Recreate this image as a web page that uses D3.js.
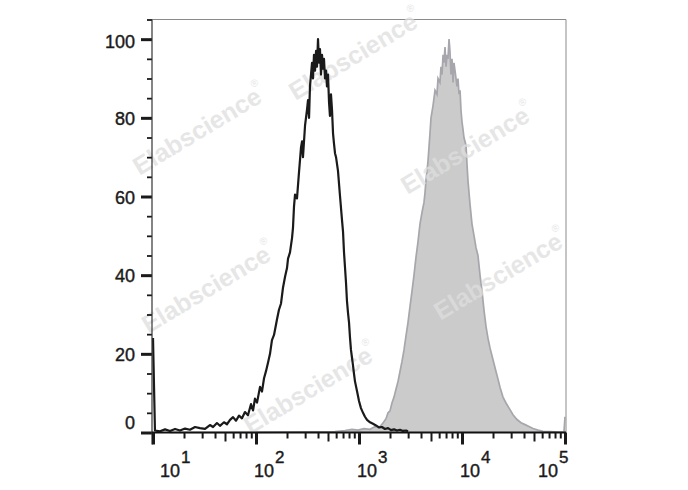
<!DOCTYPE html>
<html><head><meta charset="utf-8">
<script src="https://cdn.jsdelivr.net/npm/d3@7"></script>
<style>body{margin:0;background:#fff}svg{display:block}</style>
</head><body><svg id="c" width="688" height="490"></svg>
<script>
// ---- data (log10 of intensity, % of max) ----
const blackLog = [1.000,1.019,1.068,1.117,1.165,1.214,1.262,1.311,1.359,1.408,1.456,1.505,1.553,1.583,1.621,1.650,1.689,1.718,1.748,1.777,1.806,1.835,1.864,1.893,1.922,1.951,1.971,1.990,2.010,2.039,2.058,2.078,2.097,2.117,2.136,2.155,2.175,2.194,2.204,2.223,2.243,2.262,2.282,2.301,2.311,2.330,2.350,2.359,2.369,2.379,2.398,2.417,2.437,2.447,2.456,2.476,2.495,2.505,2.515,2.524,2.544,2.553,2.563,2.573,2.583,2.592,2.602,2.612,2.621,2.631,2.641,2.650,2.660,2.670,2.680,2.689,2.699,2.709,2.718,2.728,2.738,2.748,2.757,2.767,2.777,2.796,2.816,2.835,2.845,2.854,2.864,2.874,2.883,2.893,2.903,2.913,2.922,2.932,2.942,2.951,2.961,2.981,3.000,3.019,3.039,3.058,3.078,3.107,3.136,3.165,3.194,3.223,3.252,3.282,3.311,3.340,3.369,3.398,3.427,3.456,3.476];
const blackVal = [24,0.5,0.3,0.8,0.4,0.9,0.5,1.0,0.7,1.4,1.1,0.9,1.9,1.4,2.4,1.7,2.6,2.1,3.2,3.9,3.0,4.3,3.6,5.2,4.4,7.2,5.6,8.6,7.6,11.6,10.4,13.8,15.6,17.8,20.0,23.5,24.8,27.4,28.8,31.2,32.8,36.8,39.6,41.8,44.2,45.8,49.5,52.0,57.5,60.5,59.5,66.0,72.5,74.0,70.0,78.0,82.0,84.5,80.0,88.0,94.0,90.0,96.0,92.0,97.0,93.0,100.0,94.0,97.5,91.0,96.0,92.5,95.0,90.0,92.0,88.0,91.0,84.0,80.5,86.0,82.0,76.0,73.5,71.0,70.0,66.5,60.0,54.0,51.0,46.0,42.0,38.0,33.5,30.5,28.0,24.0,21.0,19.0,17.0,15.0,13.0,10.5,8.0,6.2,5.0,4.0,3.2,2.6,2.2,1.8,1.3,1.4,0.9,1.1,0.6,0.8,0.5,0.7,0.4,0.5,0.3];

const grayLog = [1.165,1.942,2.767,2.864,2.932,2.990,3.049,3.107,3.155,3.194,3.233,3.262,3.282,3.301,3.320,3.340,3.359,3.379,3.398,3.417,3.437,3.456,3.476,3.495,3.515,3.534,3.553,3.573,3.592,3.612,3.631,3.641,3.650,3.670,3.689,3.699,3.718,3.738,3.757,3.767,3.786,3.796,3.806,3.816,3.825,3.835,3.845,3.854,3.864,3.874,3.883,3.893,3.903,3.913,3.922,3.932,3.942,3.951,3.961,3.971,3.981,3.990,4.000,4.010,4.019,4.039,4.049,4.058,4.078,4.097,4.117,4.136,4.155,4.175,4.194,4.214,4.233,4.252,4.272,4.291,4.311,4.330,4.350,4.369,4.398,4.427,4.466,4.495,4.534,4.573,4.612,4.650,4.689,4.738,4.786,4.854,4.932,4.990,5.000];
const grayVal = [0,0,0.2,0.5,0.8,0.6,1.0,0.8,1.5,1.2,2.4,3.5,5.0,5.5,7.5,9.0,11.0,13.0,15.5,18.0,21.0,24.5,28.0,32.0,36.0,40.0,44.5,48.5,53.0,56.0,58.5,61.0,64.0,69.0,76.0,80.0,83.0,87.0,86.0,90.0,89.0,93.0,91.0,96.0,94.0,98.0,93.0,96.0,95.0,100.0,97.0,91.0,95.0,89.0,94.0,92.0,90.0,88.0,90.0,86.0,87.0,82.0,79.0,77.0,75.0,73.0,68.0,64.0,58.0,53.0,50.0,47.0,45.0,40.0,36.0,31.0,27.0,24.0,21.5,19.5,17.5,15.5,13.5,11.5,9.0,7.5,5.8,4.5,3.3,2.5,2.0,1.5,1.0,0.6,0.3,0.2,0.1,0.1,4.0];

const xDecades = [1,2,3,4,5];
const xMinorMult = [2,3,4,5,6,7,8,9];
const yMajor = [0,20,40,60,80,100];
const yMinor = [5,10,15,25,30,35,45,50,55,65,70,75,85,90,95,105];
const watermarkText = "Elabscience";
const watermarks = [[353,56],[197,131],[465,150],[206,289],[498,276],[308,390]];

// ---- scales ----
const svg = d3.select("#c");
const x = d3.scaleLog().domain([10, 1e5]).range([153, 565]);
const y = d3.scaleLinear().domain([0, 105]).range([432.5, 19.5]);
const font = "'Liberation Sans', Arial, sans-serif";

const black = blackLog.map((e,i)=>({v:Math.pow(10,e), c:blackVal[i]}));
const gray = grayLog.map((e,i)=>({v:Math.pow(10,e), c:grayVal[i]}));

// frame
svg.append("line").attr("x1",x.range()[0]-1).attr("x2",x.range()[1]+1).attr("y1",y(105)).attr("y2",y(105))
  .attr("stroke","#8a8a8a").attr("stroke-width",1);
svg.append("line").attr("x1",x.range()[1]+1).attr("x2",x.range()[1]+1).attr("y1",y(105)).attr("y2",y(0))
  .attr("stroke","#8a8a8a").attr("stroke-width",1);

// gray filled histogram
const area = d3.area().x(d=>x(d.v)).y0(y(0)).y1(d=>y(d.c));
const lineG = d3.line().x(d=>x(d.v)).y(d=>y(d.c));
svg.append("path").datum(gray).attr("d",area).attr("fill","#cbcbcb");
svg.append("path").datum(gray).attr("d",lineG).attr("fill","none").attr("stroke","#a6a6ac").attr("stroke-width",1.7);

// watermarks
watermarks.forEach(([cx,cy])=>{
  const g = svg.append("g").attr("transform",`translate(${cx},${cy}) rotate(-31)`).attr("opacity",0.75);
  g.append("text").attr("text-anchor","middle").attr("dy","0.35em")
    .style("font-family",font).style("font-weight","bold").style("font-size","25px")
    .attr("fill","#dedede").text(watermarkText);
  g.append("text").attr("x",70).attr("y",-8)
    .style("font-family",font).style("font-size","10px").attr("fill","#dedede").text("®");
});

// black histogram
svg.append("path").datum(black).attr("d",d3.line().x(d=>x(d.v)).y(d=>y(d.c)))
  .attr("fill","none").attr("stroke","#1a1a1a").attr("stroke-width",2.2).attr("stroke-linejoin","round");

// y axis
const yTicks = yMajor.concat(yMinor);
const yAxis = svg.append("g").attr("transform",`translate(${x.range()[0]-1},0)`)
  .call(d3.axisLeft(y).tickValues(yTicks).tickFormat("").tickSizeOuter(0));
yAxis.select(".domain").remove();
yAxis.selectAll(".tick line").attr("stroke","#1a1a1a")
  .attr("x2",d=>yMajor.includes(d)?-11:-5)
  .attr("stroke-width",d=>yMajor.includes(d)?3:1.8);
svg.append("line").attr("x1",x.range()[0]-1).attr("x2",x.range()[0]-1).attr("y1",y(105)).attr("y2",y(0)+12)
  .attr("stroke","#333").attr("stroke-width",1.2);
svg.append("g").selectAll("text").data(yMajor).join("text")
  .attr("x",135).attr("y",d=>d===0? y(d)-3.5 : (d===100? y(d)+8.5 : y(d)+7))
  .attr("text-anchor","end").style("font-family",font).style("font-size","18px")
  .attr("fill","#1a1a1a").attr("stroke","#1a1a1a").attr("stroke-width",0.4).text(d=>d);

// x axis
const xMajorVals = xDecades.map(k=>Math.pow(10,k));
const xMinorVals = [];
xDecades.slice(0,-1).forEach(k=>xMinorMult.forEach(m=>xMinorVals.push(m*Math.pow(10,k))));
const xAxis = svg.append("g").attr("transform",`translate(0,${y(0)})`)
  .call(d3.axisBottom(x).tickValues(xMajorVals.concat(xMinorVals)).tickFormat("").tickSizeOuter(0));
xAxis.select(".domain").attr("stroke","#111").attr("stroke-width",2)
  .attr("d",`M${x.range()[0]-1},0H${x.range()[1]+1}`);
const isMajor = d=>xMajorVals.some(v=>Math.abs(v-d)<1e-6*v);
const isMid = d=>{const m=d/Math.pow(10,Math.floor(Math.log10(d)+1e-9)); return Math.abs(m-5)<1e-6;};
xAxis.selectAll(".tick line").attr("stroke","#1a1a1a")
  .attr("y2",d=>isMajor(d)?12:(isMid(d)?9:6))
  .attr("stroke-width",d=>isMajor(d)?3:2);

// x labels
const xl = svg.append("g").selectAll("text").data(xDecades).join("text")
  .attr("y",477).style("font-family",font).style("font-size","18px")
  .attr("fill","#1a1a1a").attr("stroke","#1a1a1a").attr("stroke-width",0.4)
  .attr("x",d=>{const p=x(Math.pow(10,d)); return d===1? p+7 : (d===5? p-27 : p-2);});
xl.append("tspan").text("10");
xl.append("tspan").attr("dy",-14).attr("dx",1).style("font-size","17px").text(d=>d);
</script>
</body></html>
